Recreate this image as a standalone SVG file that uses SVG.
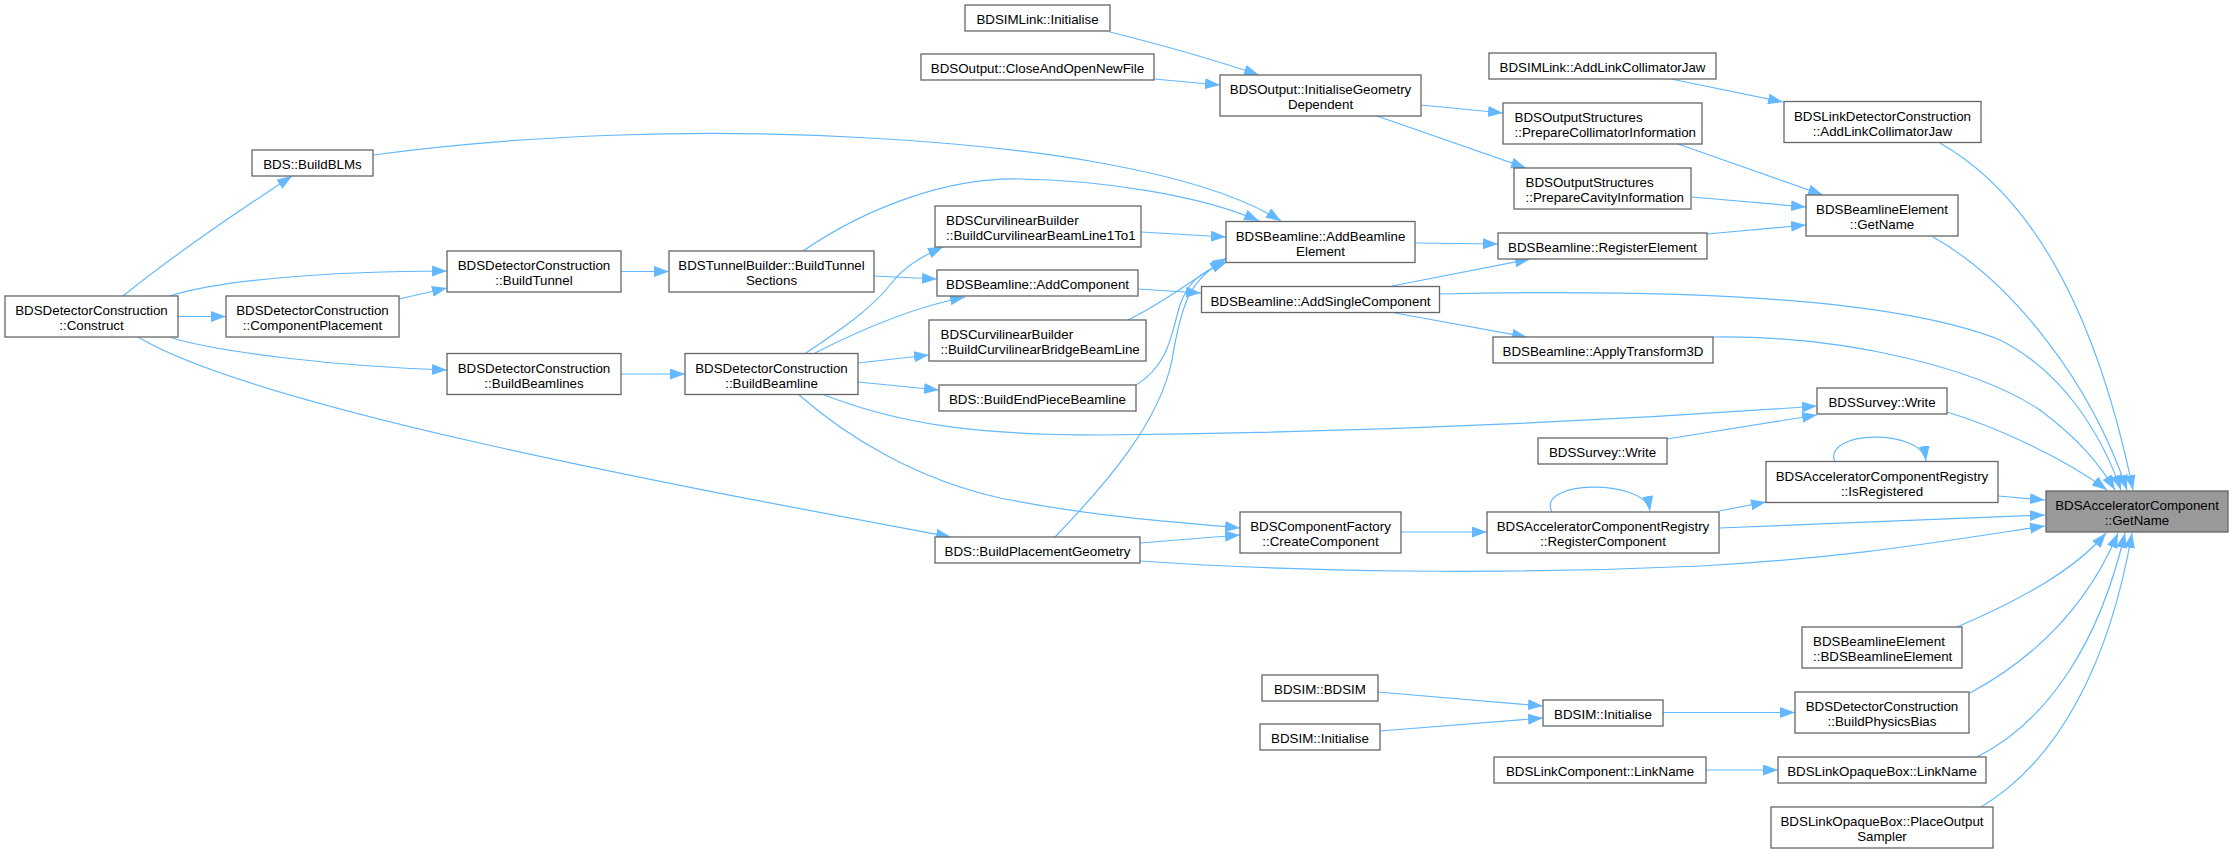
<svg xmlns="http://www.w3.org/2000/svg" width="2234" height="853" viewBox="0 0 2234 853">
<style>
.n rect{fill:#ffffff;stroke:#666666;stroke-width:1.3}
.n.root rect{fill:#999999}
.n text{font-family:"Liberation Sans",Arial,Helvetica,sans-serif;font-size:13.33px;fill:#000000;text-anchor:middle}
.n text.l{text-anchor:start}
#edges path{fill:none;stroke:#63b8ff;stroke-width:1.2;marker-end:url(#ah)}
</style>
<defs>
<marker id="ah" markerUnits="userSpaceOnUse" markerWidth="16" markerHeight="12" refX="15" refY="5.5" orient="auto">
<path d="M0,0 L15,5.5 L0,11 z" fill="#63b8ff"/>
</marker>
</defs>
<rect x="0" y="0" width="2234" height="853" fill="#ffffff"/>
<g id="edges">
<path d="M1940,143 C2040,200 2100,330 2133,490"/>
<path d="M1933,237 C2010,280 2090,380 2127,490"/>
<path d="M1439,294 C1700,288 1900,300 2000,340 C2060,370 2100,430 2121,490"/>
<path d="M1713,337 C1850,335 1980,370 2040,410 C2080,440 2100,465 2115,490"/>
<path d="M1947,412 C1990,425 2060,455 2107,490"/>
<path d="M1998,496 L2045,500"/>
<path d="M1719,528 L2045,515"/>
<path d="M1140,561 C1300,572 1500,575 1700,566 C1850,558 1950,540 2045,526"/>
<path d="M1957,627 C2020,600 2075,570 2106,533"/>
<path d="M1970,693 C2040,655 2090,600 2118,533"/>
<path d="M1977,757 C2050,720 2100,640 2125,533"/>
<path d="M1981,807 C2060,760 2110,660 2132,533"/>
<path d="M1671,79 L1783,102"/>
<path d="M1678,144 L1823,195"/>
<path d="M1692,197 L1806,207"/>
<path d="M1707,234 L1806,225"/>
<path d="M1421,105 L1503,113"/>
<path d="M1377,116 L1526,168"/>
<path d="M1110,32 C1150,42 1200,55 1259,75"/>
<path d="M1154,79 L1220,85"/>
<path d="M1415,243 L1498,244"/>
<path d="M1392,286 L1530,259"/>
<path d="M1395,313 L1527,337"/>
<path d="M1138,289 L1201,293"/>
<path d="M1141,232 L1226,237"/>
<path d="M1128,320 C1160,305 1185,285 1225,260"/>
<path d="M1136,385 C1170,365 1172,330 1180,305 C1188,282 1200,272 1227,262"/>
<path d="M1055,537 C1110,480 1160,420 1172,360 C1182,300 1190,280 1227,258"/>
<path d="M373,155 C520,135 700,128 870,138 C1030,147 1200,170 1281,221"/>
<path d="M803,251 C870,205 950,178 1018,179 C1100,180 1200,195 1259,221"/>
<path d="M874,276 L937,279"/>
<path d="M806,353 C840,330 870,310 890,285 C905,265 925,255 943,247"/>
<path d="M815,353 C860,330 910,308 965,297"/>
<path d="M858,363 L929,355"/>
<path d="M858,382 L939,390"/>
<path d="M822,394 C900,425 980,435 1100,435 C1400,432 1650,418 1817,406"/>
<path d="M798,394 C850,440 920,480 1000,498 C1100,518 1180,522 1240,528"/>
<path d="M1667,439 L1817,415"/>
<path d="M1552,512 C1535,480 1645,478 1650,511"/>
<path d="M1835,462 C1822,430 1922,428 1926,461"/>
<path d="M1719,511 L1766,502"/>
<path d="M1401,532 L1487,532"/>
<path d="M1140,543 L1240,535"/>
<path d="M621,271.5 L669,271.5"/>
<path d="M621,374 L685,374"/>
<path d="M123,296 C180,250 240,210 292,176"/>
<path d="M170,296 C220,280 330,271 447,271"/>
<path d="M178,316.5 L226,316.5"/>
<path d="M399,299 L447,288"/>
<path d="M172,338 C220,352 330,366 447,370"/>
<path d="M138,337 C260,410 700,490 951,537"/>
<path d="M1378,692 L1543,706"/>
<path d="M1380,731 L1543,718"/>
<path d="M1663,712.5 L1795,712.5"/>
<path d="M1706,770 L1778,770"/>
</g>
<g id="n_root" class="n root"><rect x="2046" y="491" width="182" height="41"/><text x="2137" y="510.3">BDSAcceleratorComponent</text><text x="2137" y="525.3">::GetName</text></g>
<g id="n_ldcjaw" class="n"><rect x="1784" y="101.5" width="197" height="41"/><text x="1882.5" y="120.8">BDSLinkDetectorConstruction</text><text x="1882.5" y="135.8">::AddLinkCollimatorJaw</text></g>
<g id="n_begetname" class="n"><rect x="1806" y="195" width="152" height="41"/><text x="1882" y="214.3">BDSBeamlineElement</text><text x="1882" y="229.3">::GetName</text></g>
<g id="n_survey1" class="n"><rect x="1817" y="388" width="130" height="26"/><text x="1882" y="407.3">BDSSurvey::Write</text></g>
<g id="n_isreg" class="n"><rect x="1766" y="461.5" width="232" height="41"/><text x="1882" y="480.8">BDSAcceleratorComponentRegistry</text><text x="1882" y="495.8">::IsRegistered</text></g>
<g id="n_bector" class="n"><rect x="1802" y="627" width="160" height="41"/><text class="l" x="1813" y="646.3">BDSBeamlineElement</text><text class="l" x="1813" y="661.3">::BDSBeamlineElement</text></g>
<g id="n_physbias" class="n"><rect x="1795" y="692" width="174" height="41"/><text x="1882" y="711.3">BDSDetectorConstruction</text><text x="1882" y="726.3">::BuildPhysicsBias</text></g>
<g id="n_loblink" class="n"><rect x="1778" y="757" width="208" height="26"/><text x="1882" y="776.3">BDSLinkOpaqueBox::LinkName</text></g>
<g id="n_placeout" class="n"><rect x="1771" y="807" width="222" height="41"/><text x="1882" y="826.3">BDSLinkOpaqueBox::PlaceOutput</text><text x="1882" y="841.3">Sampler</text></g>
<g id="n_linkjaw" class="n"><rect x="1489" y="53" width="227" height="26"/><text x="1602.5" y="72.3">BDSIMLink::AddLinkCollimatorJaw</text></g>
<g id="n_prepcoll" class="n"><rect x="1503" y="103" width="199" height="41"/><text class="l" x="1514.5" y="122.3">BDSOutputStructures</text><text class="l" x="1514.5" y="137.3">::PrepareCollimatorInformation</text></g>
<g id="n_prepcav" class="n"><rect x="1514" y="168" width="177" height="41"/><text class="l" x="1525.5" y="187.3">BDSOutputStructures</text><text class="l" x="1525.5" y="202.3">::PrepareCavityInformation</text></g>
<g id="n_regelem" class="n"><rect x="1498" y="233" width="209" height="26"/><text x="1602.5" y="252.3">BDSBeamline::RegisterElement</text></g>
<g id="n_applyt" class="n"><rect x="1493" y="337" width="220" height="26"/><text x="1603" y="356.3">BDSBeamline::ApplyTransform3D</text></g>
<g id="n_survey2" class="n"><rect x="1538" y="438" width="129" height="26"/><text x="1602.5" y="457.3">BDSSurvey::Write</text></g>
<g id="n_regcomp" class="n"><rect x="1487" y="512" width="232" height="41"/><text x="1603" y="531.3">BDSAcceleratorComponentRegistry</text><text x="1603" y="546.3">::RegisterComponent</text></g>
<g id="n_bdsiminit2" class="n"><rect x="1543" y="700" width="120" height="26"/><text x="1603" y="719.3">BDSIM::Initialise</text></g>
<g id="n_lclink" class="n"><rect x="1494" y="757" width="212" height="26"/><text x="1600" y="776.3">BDSLinkComponent::LinkName</text></g>
<g id="n_initgeo" class="n"><rect x="1220" y="75" width="201" height="41"/><text x="1320.5" y="94.3">BDSOutput::InitialiseGeometry</text><text x="1320.5" y="109.3">Dependent</text></g>
<g id="n_addble" class="n"><rect x="1226" y="221.5" width="189" height="41"/><text x="1320.5" y="240.8">BDSBeamline::AddBeamline</text><text x="1320.5" y="255.8">Element</text></g>
<g id="n_addsingle" class="n"><rect x="1201.5" y="286.5" width="238" height="26"/><text x="1320.5" y="305.8">BDSBeamline::AddSingleComponent</text></g>
<g id="n_createcomp" class="n"><rect x="1240" y="512" width="161" height="41"/><text x="1320.5" y="531.3">BDSComponentFactory</text><text x="1320.5" y="546.3">::CreateComponent</text></g>
<g id="n_bdsim" class="n"><rect x="1262" y="675" width="116" height="26"/><text x="1320" y="694.3">BDSIM::BDSIM</text></g>
<g id="n_bdsiminit1" class="n"><rect x="1260" y="724" width="120" height="26"/><text x="1320" y="743.3">BDSIM::Initialise</text></g>
<g id="n_linkinit" class="n"><rect x="965" y="5" width="145" height="26"/><text x="1037.5" y="24.3">BDSIMLink::Initialise</text></g>
<g id="n_closeopen" class="n"><rect x="921" y="54" width="233" height="26"/><text x="1037.5" y="73.3">BDSOutput::CloseAndOpenNewFile</text></g>
<g id="n_curv1to1" class="n"><rect x="935" y="206" width="206" height="41"/><text class="l" x="946" y="225.3">BDSCurvilinearBuilder</text><text class="l" x="946" y="240.3">::BuildCurvilinearBeamLine1To1</text></g>
<g id="n_addcomp" class="n"><rect x="937" y="270" width="201" height="26"/><text x="1037.5" y="289.3">BDSBeamline::AddComponent</text></g>
<g id="n_curvbridge" class="n"><rect x="929" y="320" width="217" height="41"/><text class="l" x="940.5" y="339.3">BDSCurvilinearBuilder</text><text class="l" x="940.5" y="354.3">::BuildCurvilinearBridgeBeamLine</text></g>
<g id="n_endpiece" class="n"><rect x="939" y="385" width="197" height="26"/><text x="1037.5" y="404.3">BDS::BuildEndPieceBeamline</text></g>
<g id="n_placegeo" class="n"><rect x="935" y="537" width="205" height="26"/><text x="1037.5" y="556.3">BDS::BuildPlacementGeometry</text></g>
<g id="n_tunnelsec" class="n"><rect x="669" y="251" width="205" height="41"/><text x="771.5" y="270.3">BDSTunnelBuilder::BuildTunnel</text><text x="771.5" y="285.3">Sections</text></g>
<g id="n_buildbeamline" class="n"><rect x="685" y="353.5" width="173" height="41"/><text x="771.5" y="372.8">BDSDetectorConstruction</text><text x="771.5" y="387.8">::BuildBeamline</text></g>
<g id="n_buildtunnel" class="n"><rect x="447" y="251" width="174" height="41"/><text x="534" y="270.3">BDSDetectorConstruction</text><text x="534" y="285.3">::BuildTunnel</text></g>
<g id="n_buildbeamlines" class="n"><rect x="447" y="353.5" width="174" height="41"/><text x="534" y="372.8">BDSDetectorConstruction</text><text x="534" y="387.8">::BuildBeamlines</text></g>
<g id="n_buildblms" class="n"><rect x="252" y="150" width="121" height="26"/><text x="312.5" y="169.3">BDS::BuildBLMs</text></g>
<g id="n_comppl" class="n"><rect x="226" y="296" width="173" height="41"/><text x="312.5" y="315.3">BDSDetectorConstruction</text><text x="312.5" y="330.3">::ComponentPlacement</text></g>
<g id="n_construct" class="n"><rect x="5" y="296" width="173" height="41"/><text x="91.5" y="315.3">BDSDetectorConstruction</text><text x="91.5" y="330.3">::Construct</text></g>
</svg>
